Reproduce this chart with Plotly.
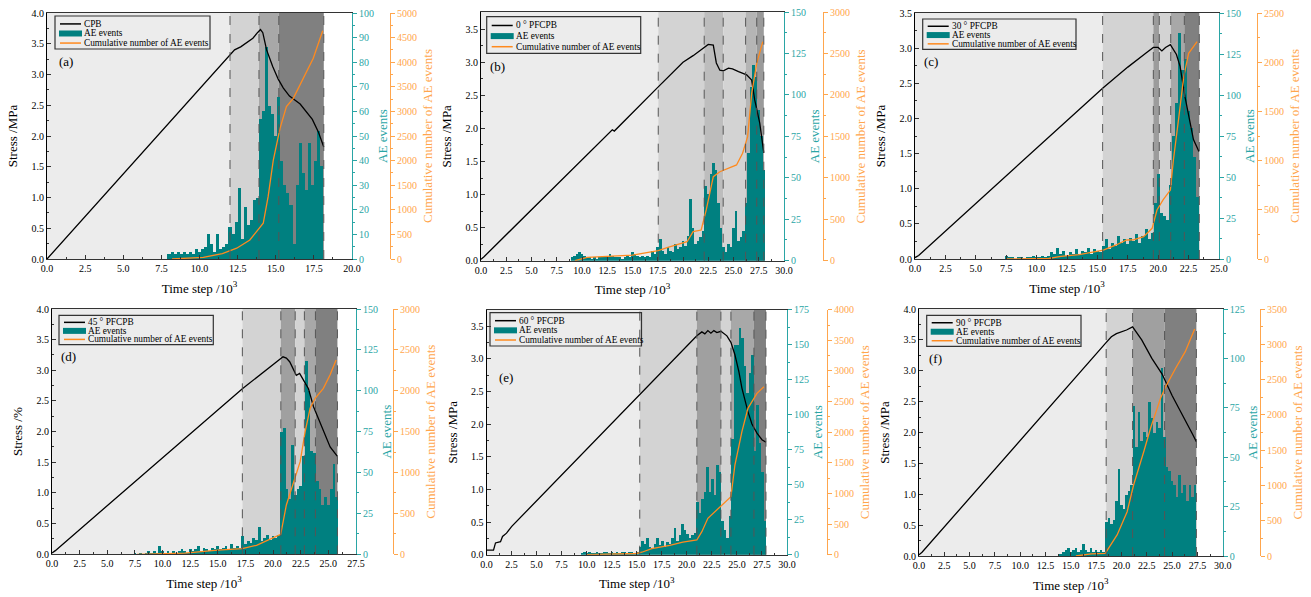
import numpy as np
import plotly.graph_objects as go

W, H = 1311, 597
FONT = "Liberation Serif"

# ---------------- data ----------------
names = ["CPB", "0 ° PFCPB", "30 ° PFCPB", "45 ° PFCPB", "60 ° PFCPB", "90 ° PFCPB"]
panel_tags = ["(a)", "(b)", "(c)", "(d)", "(e)", "(f)"]
stress_titles = ["Stress /MPa", "Stress /MPa", "Stress /MPa", "Stress /%", "Stress /MPa", "Stress /MPa"]
legend_texts = ["AE events", "Cumulative number of AE events"]

x_max = [20.0, 30.0, 25.0, 27.5, 30.0, 30.0]
stress_max = [4.0, 3.76, 3.5, 4.0, 3.75, 4.0]
ae_max = [100, 150, 150, 150, 175, 125]
ae_dtick = [10, 25, 25, 25, 25, 25]
cum_max = [5000, 3000, 2500, 3000, 4000, 3500]

# stress curves
a_stress_t = [0, 12.0, 12.3, 12.7, 13.1, 13.5, 13.8, 14.0, 14.15, 14.4, 14.8, 15.17, 15.5, 15.9, 16.6, 17.4, 17.8, 18.15]
a_stress = [0.0, 3.32, 3.4, 3.45, 3.52, 3.59, 3.68, 3.73, 3.68, 3.4, 3.13, 2.92, 2.78, 2.65, 2.52, 2.27, 2.06, 1.82]
b_stress_t = [0, 0.3, 13.0, 13.2, 17.5, 20.0, 21.0, 22.0, 22.5, 23.0, 23.3, 23.65, 24.0, 24.5, 24.9, 25.5, 26.3, 26.8, 27.1, 27.6, 28.0]
b_stress = [0.02, 0.06, 1.98, 1.96, 2.62, 3.0, 3.1, 3.22, 3.27, 3.26, 2.99, 2.88, 2.87, 2.91, 2.9, 2.86, 2.81, 2.73, 2.43, 2.08, 1.63]
c_stress_t = [0, 0.3, 15.43, 17.5, 19.0, 19.6, 20.0, 20.3, 20.6, 21.0, 21.5, 21.8, 22.2, 22.6, 22.9, 23.35]
c_stress = [0.02, 0.05, 2.43, 2.73, 2.93, 3.01, 3.01, 2.96, 3.01, 3.05, 2.91, 2.74, 2.31, 1.95, 1.70, 1.53]
d_stress_t = [0, 0.3, 17.22, 19.0, 20.5, 20.9, 21.2, 21.5, 22.1, 22.4, 22.75, 23.2, 23.65, 24.0, 24.55, 25.16, 25.8]
d_stress = [0.02, 0.06, 2.70, 2.95, 3.17, 3.22, 3.2, 3.14, 2.92, 2.95, 2.84, 2.7, 2.41, 2.25, 2.0, 1.75, 1.6]
e_stress_t = [0, 0.7, 0.9, 1.4, 1.6, 2.0, 2.5, 15.3, 21.0, 21.5, 21.8, 22.1, 22.4, 22.7, 23.0, 23.4, 24.0, 24.4, 24.8, 25.2, 25.5, 26.1, 26.5, 27.0, 27.5, 27.9]
e_stress = [0.07, 0.07, 0.18, 0.2, 0.28, 0.33, 0.43, 2.45, 3.35, 3.41, 3.38, 3.43, 3.39, 3.43, 3.4, 3.42, 3.35, 3.25, 3.06, 2.8, 2.55, 2.19, 2.0, 1.86, 1.76, 1.72]
f_stress_t = [0, 0.3, 18.5, 19.0, 19.5, 20.0, 20.5, 21.1, 21.5, 22.0, 23.0, 24.0, 25.0, 26.0, 27.0, 27.4]
f_stress = [0.02, 0.06, 3.46, 3.55, 3.6, 3.63, 3.66, 3.71, 3.62, 3.5, 3.2, 2.95, 2.6, 2.3, 1.98, 1.85]

# cumulative AE events
a_cum_t = [8.2, 10.25, 11.5, 12.0, 12.44, 13.3, 13.86, 14.18, 14.5, 14.84, 15.28, 15.7, 16.15, 16.8, 17.46, 18.08]
a_cum = [0, 35, 110, 163, 220, 386, 590, 726, 1266, 2012, 2656, 3096, 3266, 3673, 4080, 4640]
b_cum_t = [9.3, 10.5, 15.0, 17.55, 18.5, 20.4, 21.0, 21.8, 22.3, 23.0, 23.65, 25.3, 25.9, 26.4, 26.8, 27.3, 27.9]
b_cum = [0, 40, 68, 121, 160, 229, 350, 370, 612, 1013, 1073, 1155, 1296, 1496, 2019, 2381, 2642]
c_cum_t = [7.5, 11.0, 12.0, 13.5, 15.49, 16.5, 17.4, 17.96, 18.8, 19.5, 19.9, 20.4, 21.0, 21.25, 21.7, 22.1, 22.5, 23.2]
c_cum = [0, 5, 27, 44, 91, 140, 193, 195, 227, 312, 498, 600, 701, 1006, 1446, 1853, 2090, 2208]
d_cum_t = [7.7, 12.0, 15.0, 17.2, 18.5, 19.5, 20.69, 21.2, 21.8, 22.45, 22.9, 23.35, 23.8, 24.55, 25.15, 25.7]
d_cum = [0, 15, 50, 69, 110, 171, 245, 603, 848, 1133, 1500, 1786, 1908, 2030, 2193, 2376]
e_cum_t = [10.0, 15.0, 15.5, 16.5, 18.3, 19.6, 21.0, 21.5, 22.1, 22.8, 23.5, 24.4, 24.8, 25.5, 26.1, 27.0, 27.7]
e_cum = [0, 20, 40, 98, 152, 206, 240, 376, 594, 702, 811, 947, 1464, 2008, 2390, 2635, 2743]
f_cum_t = [15.5, 17.0, 18.4, 18.9, 19.57, 20.56, 21.2, 22.2, 22.87, 23.86, 24.36, 25.35, 26.3, 27.23]
f_cum = [0, 30, 38, 156, 298, 628, 1006, 1478, 1810, 2234, 2399, 2660, 2895, 3217]

# AE events per time bin (centre of first bin, bin width, counts)
a_ae_start, a_ae_step = 8.0, 0.2
a_ae = [2, 3, 2, 3, 2, 3, 2, 3, 2, 4, 3, 4, 5, 10, 6, 3, 10, 4, 5, 6,
        13, 10, 15, 29, 8, 21, 14, 16, 24, 25, 57, 60, 86, 62, 59, 50, 66, 40, 30, 27,
        22, 6, 30, 47, 35, 28, 47, 30, 40, 52, 38]
b_ae_start, b_ae_step = 9.0, 0.25
b_ae = [2, 3, 4, 5, 4, 3, 2, 2, 1, 2, 1, 2, 2, 3, 2, 4, 3, 2, 2, 2,
        1, 2, 3, 2, 5, 4, 3, 2, 3, 2, 3, 2, 6, 4, 8, 13, 6, 4, 8, 6,
        5, 10, 7, 8, 12, 9, 15, 37, 20, 10, 12, 14, 18, 45, 40, 52, 59, 55, 35, 20,
        8, 5, 10, 8, 20, 30, 12, 14, 18, 35, 65, 105, 118, 111, 91, 75, 55]
c_ae_start, c_ae_step = 7.5, 0.25
c_ae = [2, 1, 1, 0, 1, 1, 0, 1, 1, 2, 1, 1, 2, 1, 2, 4, 3, 7, 3, 5,
        2, 4, 3, 6, 3, 5, 4, 7, 3, 6, 5, 4, 8, 12, 6, 10, 8, 14, 10, 12,
        9, 13, 11, 15, 10, 14, 18, 12, 16, 34, 52, 28, 26, 24, 45, 75, 95, 138, 115, 122,
        90, 80, 62, 38]
d_ae_start, d_ae_step = 7.5, 0.25
d_ae = [1, 0, 1, 0, 1, 2, 1, 2, 1, 5, 2, 1, 2, 1, 2, 1, 2, 3, 2, 1,
        3, 2, 3, 5, 2, 4, 3, 2, 4, 3, 5, 3, 4, 5, 3, 6, 4, 5, 4, 11,
        6, 8, 7, 10, 9, 17, 8, 10, 12, 9, 11, 10, 12, 75, 77, 40, 34, 67, 36, 40,
        42, 60, 118, 100, 63, 62, 45, 40, 30, 35, 30, 40, 55, 35]
e_ae_start, e_ae_step = 9.5, 0.25
e_ae = [1, 2, 1, 2, 1, 1, 2, 1, 1, 2, 2, 1, 2, 1, 2, 1, 2, 2, 1, 2,
        2, 1, 2, 6, 10, 8, 12, 6, 5, 8, 12, 7, 10, 6, 9, 8, 12, 19, 10, 14,
        22, 18, 15, 12, 14, 16, 38, 30, 40, 45, 63, 45, 54, 43, 64, 59, 24, 18, 12, 28,
        83, 150, 150, 162, 155, 135, 116, 130, 143, 74, 107, 80, 59, 24]
f_ae_start, f_ae_step = 14.0, 0.25
f_ae = [1, 2, 3, 4, 2, 3, 4, 2, 3, 6, 3, 2, 4, 2, 3, 2, 3, 2, 17, 19,
        16, 18, 28, 44, 26, 24, 31, 33, 36, 76, 55, 73, 58, 63, 60, 78, 70, 62, 68, 65,
        95, 60, 45, 43, 38, 36, 30, 41, 32, 36, 28, 36, 30, 36]

# loading stage boundaries
a_bounds = [0, 12.0, 13.9, 15.2, 18.15]
b_bounds = [0, 17.55, 22.1, 23.98, 26.2, 27.3, 28.0]
c_bounds = [0, 15.43, 19.6, 20.09, 21.03, 22.15, 23.38]
d_bounds = [0, 17.22, 20.7, 22.0, 22.83, 23.83, 25.82]
e_bounds = [0, 15.3, 21.0, 23.4, 24.4, 26.7, 27.9]
f_bounds = [0, 18.49, 21.1, 24.26, 27.4]

stress_t = [a_stress_t, b_stress_t, c_stress_t, d_stress_t, e_stress_t, f_stress_t]
stress = [a_stress, b_stress, c_stress, d_stress, e_stress, f_stress]
cum_t = [a_cum_t, b_cum_t, c_cum_t, d_cum_t, e_cum_t, f_cum_t]
cum = [a_cum, b_cum, c_cum, d_cum, e_cum, f_cum]
ae = [a_ae, b_ae, c_ae, d_ae, e_ae, f_ae]
ae_start = [a_ae_start, b_ae_start, c_ae_start, d_ae_start, e_ae_start, f_ae_start]
ae_step = [a_ae_step, b_ae_step, c_ae_step, d_ae_step, e_ae_step, f_ae_step]
bounds = [a_bounds, b_bounds, c_bounds, d_bounds, e_bounds, f_bounds]

# ---------------- styles / layout geometry ----------------
TEAL = "#008080"
TEAL_AX = "#2aa5a5"
ORANGE = "#ff8a1e"
ORANGE_AX = "#ffa64d"
AXC = "#333333"
TICK_FS = 10
TITLE_FS = 13
LEG_FS = 9.3

shade_colors = [
    ["#ececec", "#d3d3d3", "#a8a8a8", "#808080"],
    ["#ececec", "#d3d3d3", "#bdbdbd", "#d3d3d3", "#b5b5b5", "#9a9a9a"],
    ["#ececec", "#d3d3d3", "#9c9c9c", "#d3d3d3", "#a8a8a8", "#808080"],
    ["#ececec", "#d3d3d3", "#a0a0a0", "#d3d3d3", "#a8a8a8", "#808080"],
    ["#ececec", "#d3d3d3", "#a0a0a0", "#d3d3d3", "#a8a8a8", "#808080"],
    ["#ececec", "#d3d3d3", "#a0a0a0", "#808080"],
]

# plot rectangles in pixels (left, top, right, bottom)
rects = [(47, 13, 352, 259), (481, 12, 784, 260.7), (915, 13, 1219, 259),
         (52, 309, 356, 554.3), (486.5, 309.7, 787, 554.7), (919, 309, 1222.7, 556)]
cum_axis_px = [390, 823, 1257, 393, 827, 1260]
legend_boxes = [(8, 3, 163, 36), (5.7, 4.7, 159.7, 41.3), (7.7, 6, 161, 36.3),
                (7, 6.3, 161.3, 35.7), (3.5, 3, 155, 36.3), (7.7, 6.3, 162, 37.3)]
tag_offsets = [(10, 48), (7, 55), (7, 48), (7, 47), (10, 68), (8, 49)]


def sfx(i):
    return "" if i == 1 else str(i)


def PX(px):
    return px / W


def PY(py):
    return 1 - py / H


fig = go.Figure()
layout = dict(width=W, height=H, margin=dict(l=0, r=0, t=0, b=0),
              plot_bgcolor="white", paper_bgcolor="white", showlegend=False,
              font=dict(family=FONT, size=TICK_FS, color="black"))
shapes = []
annotations = []

for k in range(6):
    xi = k + 1
    yb, ys, yc = 3 * k + 1, 3 * k + 2, 3 * k + 3
    xname, ybn, ysn, ycn = "x" + sfx(xi), "y" + sfx(yb), "y" + sfx(ys), "y" + sfx(yc)
    L, T, R, B = rects[k]

    layout["xaxis" + sfx(xi)] = dict(
        domain=[PX(L), PX(R)], range=[0, x_max[k]], anchor=ybn,
        showline=True, linecolor=AXC, linewidth=1, mirror=True,
        ticks="inside", ticklen=4, tickcolor=AXC, tick0=0, dtick=2.5, tickformat=".1f",
        minor=dict(ticks="inside", ticklen=2, dtick=1.25, tickcolor=AXC),
        showgrid=False, zeroline=False, automargin=False,
        tickfont=dict(size=TICK_FS, family=FONT),
        title=dict(text="Time step /10<sup>3</sup>", font=dict(size=TITLE_FS, family=FONT), standoff=10))
    layout["yaxis" + sfx(yb)] = dict(
        domain=[PY(B), PY(T)], range=[0, ae_max[k]], anchor=xname, side="right",
        showline=True, linecolor=TEAL_AX, linewidth=1.2,
        ticks="outside", ticklen=4, tickcolor=TEAL_AX, tick0=0, dtick=ae_dtick[k],
        minor=dict(ticks="outside", ticklen=2, dtick=ae_dtick[k] / 2, tickcolor=TEAL_AX),
        showgrid=False, zeroline=False, automargin=False,
        tickfont=dict(size=TICK_FS, color=TEAL_AX, family=FONT),
        title=dict(text="AE events", font=dict(size=TITLE_FS, color=TEAL_AX, family=FONT), standoff=4))
    layout["yaxis" + sfx(ys)] = dict(
        overlaying=ybn, side="left", anchor=xname, range=[0, stress_max[k]],
        showline=True, linecolor="black", linewidth=1,
        ticks="inside", ticklen=4, tickcolor=AXC, tick0=0, dtick=0.5, tickformat=".1f",
        minor=dict(ticks="inside", ticklen=2, dtick=0.25, tickcolor=AXC),
        showgrid=False, zeroline=False, automargin=False,
        tickfont=dict(size=TICK_FS, family=FONT),
        title=dict(text=stress_titles[k], font=dict(size=TITLE_FS, family=FONT), standoff=10))
    layout["yaxis" + sfx(yc)] = dict(
        overlaying=ybn, side="right", anchor="free", position=PX(cum_axis_px[k]),
        range=[0, cum_max[k]],
        showline=True, linecolor=ORANGE_AX, linewidth=1.2,
        ticks="outside", ticklen=4, tickcolor=ORANGE_AX, tick0=0, dtick=500,
        minor=dict(ticks="outside", ticklen=2, dtick=250, tickcolor=ORANGE_AX),
        showgrid=False, zeroline=False, automargin=False,
        tickfont=dict(size=TICK_FS, color=ORANGE_AX, family=FONT),
        title=dict(text="Cumulative number of AE events",
                   font=dict(size=TITLE_FS, color=ORANGE_AX, family=FONT), standoff=6))

    # AE bars (base axis -> drawn first, lines drawn over them)
    xs = ae_start[k] + ae_step[k] * np.arange(len(ae[k]))
    fig.add_trace(go.Bar(x=xs, y=ae[k], width=ae_step[k], marker=dict(color=TEAL, line=dict(width=0)),
                         xaxis=xname, yaxis=ybn, name="AE events"))
    fig.add_trace(go.Scatter(x=stress_t[k], y=stress[k], mode="lines", line=dict(color="black", width=1.3),
                             xaxis=xname, yaxis=ysn, name=names[k]))
    fig.add_trace(go.Scatter(x=cum_t[k], y=cum[k], mode="lines", line=dict(color=ORANGE, width=1.3),
                             xaxis=xname, yaxis=ycn, name="Cumulative number of AE events"))

    # stage shading + dashed boundaries
    bd = bounds[k]
    for j in range(len(bd) - 1):
        shapes.append(dict(type="rect", xref=xname, yref=ybn + " domain", x0=bd[j], x1=bd[j + 1],
                           y0=0, y1=1, fillcolor=shade_colors[k][j], line=dict(width=0), layer="below"))
    for b in bd[1:]:
        shapes.append(dict(type="line", xref=xname, yref=ybn + " domain", x0=b, x1=b, y0=0, y1=1,
                           line=dict(color="#555555", width=1, dash="dash"), layer="above"))

    # legend (drawn manually to get the compact Origin-style box)
    lx0, ly0, lx1, ly1 = legend_boxes[k]
    bx0, by0, bx1, by1 = L + lx0, T + ly0, L + lx1, T + ly1
    shapes.append(dict(type="rect", xref="paper", yref="paper", x0=PX(bx0), x1=PX(bx1),
                       y0=PY(by1), y1=PY(by0), line=dict(color="#333333", width=1.2),
                       fillcolor="rgba(0,0,0,0)", layer="above"))
    hgt = by1 - by0
    rows = [by0 + hgt * 0.24, by0 + hgt * 0.53, by0 + hgt * 0.82]
    shapes.append(dict(type="line", xref="paper", yref="paper", x0=PX(bx0 + 5), x1=PX(bx0 + 26),
                       y0=PY(rows[0]), y1=PY(rows[0]), line=dict(color="black", width=1.5), layer="above"))
    shapes.append(dict(type="rect", xref="paper", yref="paper", x0=PX(bx0 + 4), x1=PX(bx0 + 27),
                       y0=PY(rows[1] + 3), y1=PY(rows[1] - 3), fillcolor=TEAL, line=dict(width=0), layer="above"))
    shapes.append(dict(type="line", xref="paper", yref="paper", x0=PX(bx0 + 5), x1=PX(bx0 + 26),
                       y0=PY(rows[2]), y1=PY(rows[2]), line=dict(color=ORANGE, width=1.5), layer="above"))
    for txt, ry in zip([names[k]] + legend_texts, rows):
        annotations.append(dict(text=txt, xref="paper", yref="paper", x=PX(bx0 + 28), y=PY(ry),
                                xanchor="left", yanchor="middle", showarrow=False, borderpad=0,
                                font=dict(size=LEG_FS, family=FONT, color="black")))
    # panel tag
    tx, ty = tag_offsets[k]
    annotations.append(dict(text=panel_tags[k], xref="paper", yref="paper", x=PX(L + tx), y=PY(T + ty),
                            xanchor="left", yanchor="middle", showarrow=False,
                            font=dict(size=TITLE_FS, family=FONT, color="black")))

layout["shapes"] = shapes
layout["annotations"] = annotations
layout["bargap"] = 0
fig.update_layout(**layout)
fig.write_html("out.html", config={"displayModeBar": False},
               post_script="document.body.style.margin='0px';document.body.style.overflow='hidden';")
